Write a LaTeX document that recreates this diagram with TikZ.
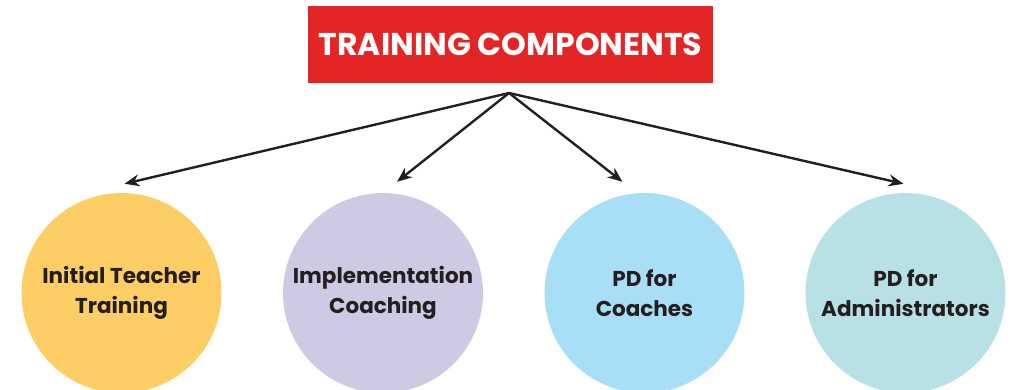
\documentclass[tikz,border=0pt]{standalone}
\usepackage{fontspec}
\setmainfont{Poppins}
\usepackage{xcolor}
\usepackage{tikz}
\usetikzlibrary{arrows.meta}

\definecolor{titlered}{HTML}{E32526}
\definecolor{inkdark}{HTML}{231F20}
\definecolor{sunyellow}{HTML}{FDCD66}
\definecolor{lavender}{HTML}{CFCAE4}
\definecolor{skyblue}{HTML}{A9DEF7}
\definecolor{paleteal}{HTML}{B8E1E5}

\tikzset{
  titlebox/.style={fill=titlered, text=white, minimum width=405pt, minimum height=77pt,
    inner sep=0pt, font=\fontsize{31.5}{34}\selectfont\bfseries},
  topic/.style={circle, minimum size=200pt, inner sep=0pt, text=inkdark, align=center,
    font=\fontsize{21.5}{30}\selectfont\bfseries},
  link/.style={draw=inkdark, line width=2.4pt, -{Stealth[length=15pt,width=12pt,inset=5pt]}}
}

\begin{document}
\begin{tikzpicture}[x=1pt,y=1pt]
	\useasboundingbox (0,0) rectangle (1015,390);
	\node[titlebox] (title) at (510.5,345.5) {TRAINING COMPONENTS};
	\coordinate (apex) at (509,297);
	% the four parts
	\node[topic, fill=sunyellow] (initial) at (121.5,97) {Initial Teacher\\Training};
	\node[topic, fill=lavender] (coaching) at (383,97) {Implementation\\Coaching};
	\node[topic, fill=skyblue] (pdcoach) at (644.5,97) {PD for\\Coaches};
	\node[topic, fill=paleteal] (pdadmin) at (905.5,97) {PD for\\Administrators};
	% arrows
	\draw[link] (apex) -- ([shift={(3,9)}]initial.north);
	\draw[link] (apex) -- ([shift={(14,11)}]coaching.north);
	\draw[link] (apex) -- ([shift={(-22,11)}]pdcoach.north);
	\draw[link] (apex) -- ([shift={(-2,9)}]pdadmin.north);
\end{tikzpicture}
\end{document}
